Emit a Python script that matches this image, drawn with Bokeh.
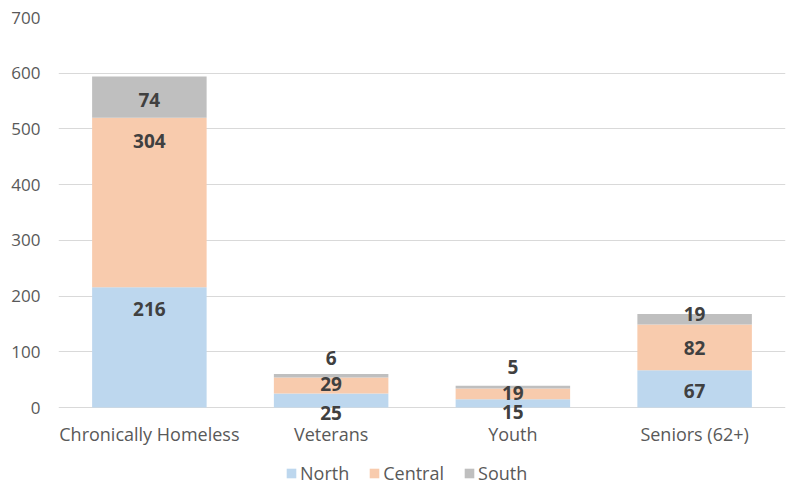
import numpy as np
from bokeh.plotting import figure
from bokeh.models import (ColumnDataSource, FixedTicker, Legend, LegendItem,
                          Range1d, FactorRange, LabelSet)
from bokeh.core.properties import value
from bokeh.embed import file_html
from bokeh.resources import INLINE

categories = ["Chronically Homeless", "Veterans", "Youth", "Seniors (62+)"]
north = [216, 25, 15, 67]
central = [304, 29, 19, 82]
south = [74, 6, 5, 19]
series = ["North", "Central", "South"]
colors = ["#BDD7EE", "#F8CBAD", "#BFBFBF"]
y_ticks = [0, 100, 200, 300, 400, 500, 600, 700]

# label offsets in pixels from the top of each segment (positive = downward)
north_off = [22, 19, 13, 21]
central_off = [23, 7, 4, 24]
south_off = [23, -16, -19, 0]

FONT = "Open Sans"

src = ColumnDataSource(dict(cat=categories, North=north, Central=central, South=south))

# frame spans the whole height below the 700 line so labels/legend are not clipped
p = figure(x_range=FactorRange(*categories, range_padding=0, factor_padding=0),
           y_range=Range1d(-140.0, 700), x_axis_location=None,
           width=788, height=485, output_backend="svg", toolbar_location=None,
           min_border_left=58, min_border_right=3, min_border_top=17,
           min_border_bottom=0)

rs = p.vbar_stack(series, x="cat", width=0.63, color=colors, line_color=None,
                  source=src)

vals = [north, central, south]
offs = [north_off, central_off, south_off]
base = np.zeros(len(categories))
for v, o in zip(vals, offs):
    top = base + np.array(v)
    ls = ColumnDataSource(dict(x=categories, y=top.tolist(),
                               text=[str(t) for t in v],
                               off=[-k for k in o]))
    p.add_layout(LabelSet(x="x", y="y", text="text", y_offset="off", source=ls,
                          text_align="center", text_baseline="middle",
                          text_font=value(FONT), text_font_style="bold",
                          text_font_size="19px", text_color="#404040"))
    base = top

# category labels under the zero line
cat_src = ColumnDataSource(dict(x=categories, y=[0] * len(categories), text=categories))
p.add_layout(LabelSet(x="x", y="y", text="text", y_offset=-26, source=cat_src,
                      text_align="center", text_baseline="middle",
                      text_font=value(FONT), text_font_size="18px",
                      text_color="#595959"))

legend = Legend(items=[LegendItem(label=s, renderers=[r]) for s, r in zip(series, rs)],
                location=(227, 0), orientation="horizontal",
                border_line_color=None, background_fill_alpha=0,
                label_text_font=FONT, label_text_font_size="18px",
                label_text_color="#595959", glyph_width=12, glyph_height=12,
                label_standoff=3, spacing=19, padding=0, margin=0)
p.add_layout(legend)

p.yaxis.ticker = FixedTicker(ticks=y_ticks)
p.ygrid.ticker = FixedTicker(ticks=y_ticks)
p.ygrid.grid_line_color = "#D9D9D9"
p.ygrid.grid_line_width = 1
p.xgrid.grid_line_color = None
p.outline_line_color = None

p.yaxis.axis_line_color = None
p.yaxis.major_tick_line_color = None
p.yaxis.minor_tick_line_color = None
p.yaxis.major_tick_out = 0
p.yaxis.major_tick_in = 0
p.yaxis.minor_tick_out = 0
p.yaxis.major_label_text_font = FONT
p.yaxis.major_label_text_color = "#595959"
p.yaxis.major_label_text_font_size = "17px"
p.yaxis.major_label_standoff = 18

open("out.html", "w").write(file_html(p, INLINE))
